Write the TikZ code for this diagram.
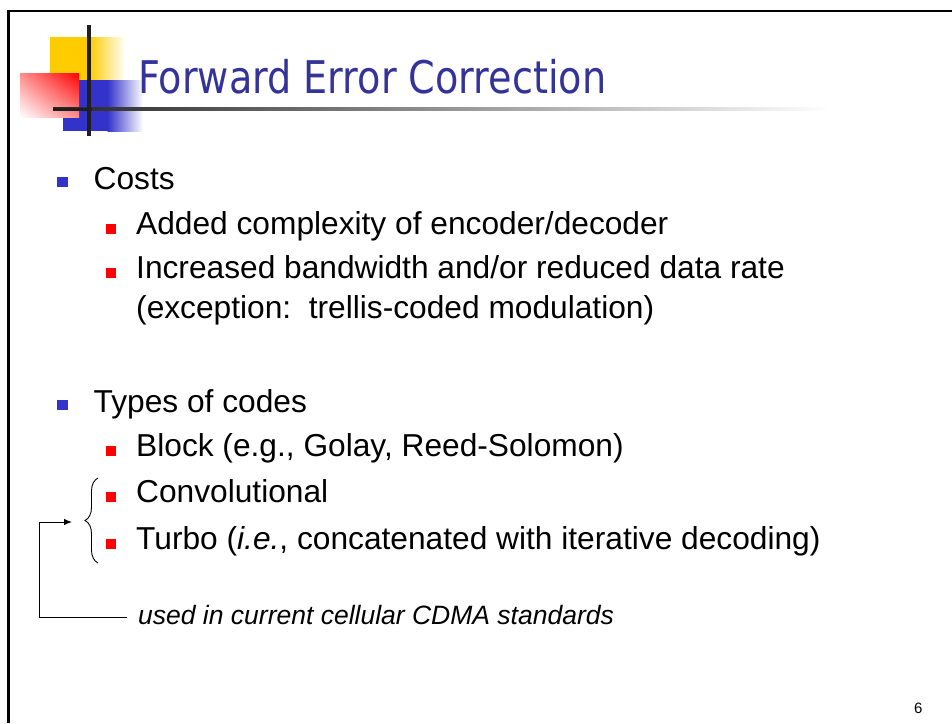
\documentclass[tikz,border=0pt]{standalone}
\usepackage{fontspec}
\setmainfont{Liberation Sans}
\newfontfamily\titlefont[FakeStretch=0.848]{DejaVu Sans}
\usetikzlibrary{arrows.meta,decorations.pathreplacing,shadings}

\definecolor{titleblue}{RGB}{51,51,153}
\definecolor{logoblue}{RGB}{51,51,204}
\definecolor{logoyellow}{RGB}{255,204,0}
\definecolor{logored}{RGB}{255,0,0}

\tikzset{
  body/.style={anchor=base west, inner sep=0pt, font=\fontsize{31.7}{38}\selectfont},
  note/.style={anchor=base west, inner sep=0pt, font=\fontsize{26.5}{31}\selectfont\itshape},
  bulletA/.style={fill=logoblue, inner sep=0pt, minimum width=10.5pt, minimum height=10pt},
  bulletB/.style={fill=logored, inner sep=0pt, minimum width=10pt, minimum height=10pt},
  connector/.style={line width=1pt, -{Latex[length=8pt,width=6.5pt]}},
}

\begin{document}
\begin{tikzpicture}[x=1pt,y=-1pt]
\useasboundingbox (0,0) rectangle (952,723);
\fill[white] (0,0) rectangle (952,723);

% slide frame (top and left edges)
\draw[line width=2.6pt] (8.7,723) -- (8.7,10.8) -- (952,10.8);

% logo: yellow, blue and red squares with fading edges
\fill[logoyellow] (50,37) rectangle (90,81);
\shade[left color=logoyellow, right color=white] (89.5,37) rectangle (125,81);
\fill[logoblue] (63,80) rectangle (108,131);
\shade[left color=logoblue, right color=white] (107.5,80) rectangle (143,131);
\shade[upper right=logored, lower left=white, upper left=logored!45!white, lower right=logored!45!white] (20,73) rectangle (79,117);

% title rule fading to the right
\shade[left color=black!85, middle color=black!45, right color=white] (53,107.8) rectangle (830,110.6);
\fill[black!88] (53,107.8) rectangle (92,110.6);
% logo cross bar
\fill[black!88] (87.2,25) rectangle (91.2,136);

% title
\node[anchor=base west, inner sep=0pt, text=titleblue, font=\titlefont\fontsize{45}{54}\selectfont] (title) at (138,93) {Forward Error Correction};

% first group
\node[bulletA] (b1) at (62.5,182) {};
\node[body] (costs) at (93.5,189) {Costs};
\node[bulletB] (b2) at (111,228.5) {};
\node[body] (added) at (136,234) {Added complexity of encoder/decoder};
\node[bulletB] (b3) at (111,272.5) {};
\node[body] (incr) at (136,278) {Increased bandwidth and/or reduced data rate};
\node[body] (exc) at (136,318) {(exception:\ \ trellis-coded modulation)};

% second group
\node[bulletA] (b4) at (62.5,404.5) {};
\node[body] (types) at (93.5,412) {Types of codes};
\node[bulletB] (b5) at (110.5,450.5) {};
\node[body] (block) at (136,456) {Block (e.g., Golay, Reed-Solomon)};
\node[bulletB] (b6) at (110.5,497) {};
\node[body] (conv) at (136,502.5) {Convolutional};
\node[bulletB] (b7) at (110.5,543.5) {};
\node[body] (turbo) at (136,549) {Turbo (\textit{i.e.}, concatenated with iterative decoding)};

% brace grouping convolutional and turbo codes
\draw[line width=0.9pt, decorate, decoration={brace, amplitude=13pt}] (98,563) -- (98,478);
\coordinate (bracetip) at (83,522);

% remark with connector to the brace
\node[note] (remark) at (138,624.5) {used in current cellular CDMA standards};
\coordinate (corner) at (39,617);
\draw[connector] ([xshift=-11pt]remark.west |- corner) -- (corner) |- ([xshift=-11pt]bracetip);

% page number
\node[anchor=base west, inner sep=0pt, font=\fontsize{15}{18}\selectfont] (pagenum) at (914,713) {6};
\end{tikzpicture}
\end{document}
